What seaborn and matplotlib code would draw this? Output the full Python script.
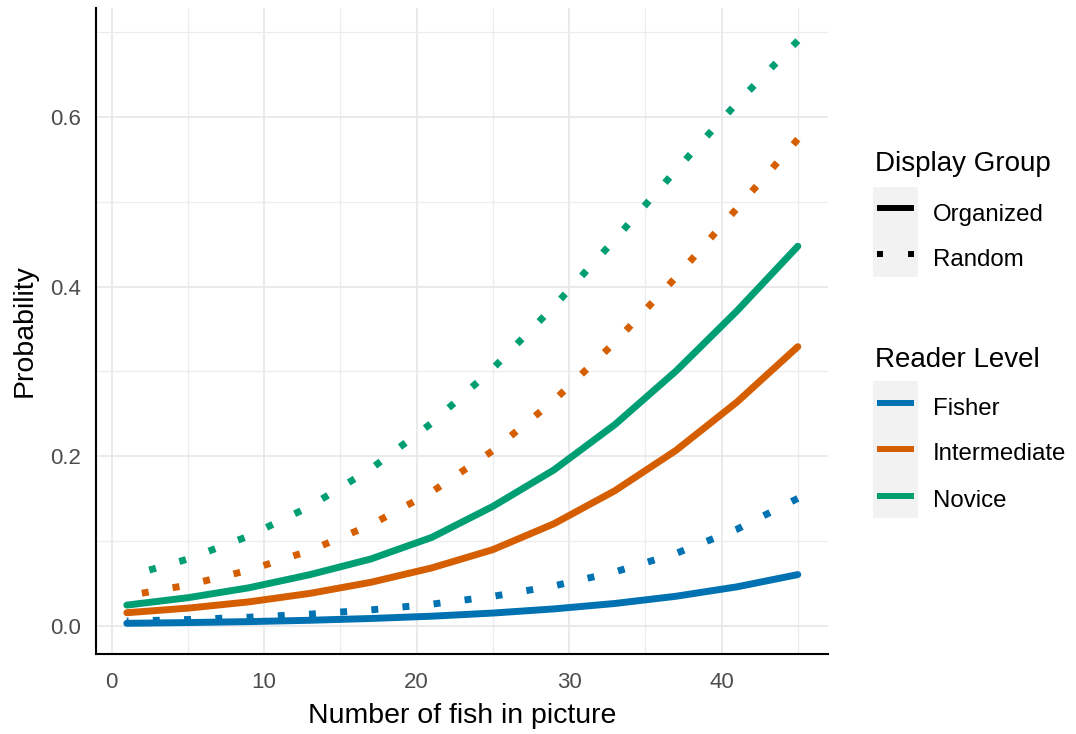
import matplotlib
matplotlib.use("Agg")
import matplotlib.pyplot as plt
import pandas as pd
import seaborn as sns
from matplotlib.lines import Line2D
from matplotlib.patches import Rectangle
from matplotlib.ticker import MultipleLocator, FormatStrFormatter

# Predicted probability of a reading error by number of fish in the picture
fish_count = [1, 5, 9, 13, 17, 21, 25, 29, 33, 37, 41, 45]

fisher_organized = [0.0026, 0.0035, 0.0046, 0.0062, 0.0083, 0.0110,
                    0.0147, 0.0196, 0.0260, 0.0345, 0.0456, 0.0601]
fisher_random = [0.0052, 0.0071, 0.0098, 0.0134, 0.0184, 0.0252,
                 0.0344, 0.0467, 0.0632, 0.0850, 0.1135, 0.1500]
intermediate_organized = [0.0151, 0.0205, 0.0279, 0.0379, 0.0510, 0.0680,
                          0.0895, 0.1200, 0.1590, 0.2065, 0.2635, 0.3290]
intermediate_random = [0.0349, 0.0478, 0.0652, 0.0884, 0.1187, 0.1577,
                       0.2063, 0.2654, 0.3340, 0.4107, 0.4920, 0.5738]
novice_organized = [0.0241, 0.0328, 0.0445, 0.0600, 0.0785, 0.1040,
                    0.1405, 0.1835, 0.2370, 0.3000, 0.3710, 0.4475]
novice_random = [0.0579, 0.0784, 0.1056, 0.1405, 0.1848, 0.2390,
                 0.3032, 0.3764, 0.4554, 0.5370, 0.6163, 0.6900]

reader_levels = ["Fisher", "Intermediate", "Novice"]
display_groups = ["Organized", "Random"]
level_colors = {"Fisher": "#0072B2", "Intermediate": "#D55E00", "Novice": "#009E73"}

x_ticks = [0, 10, 20, 30, 40]
y_ticks = [0.0, 0.2, 0.4, 0.6]

curves = {
    ("Fisher", "Organized"): fisher_organized,
    ("Fisher", "Random"): fisher_random,
    ("Intermediate", "Organized"): intermediate_organized,
    ("Intermediate", "Random"): intermediate_random,
    ("Novice", "Organized"): novice_organized,
    ("Novice", "Random"): novice_random,
}
rows = []
for (level, group), values in curves.items():
    for n, p in zip(fish_count, values):
        rows.append({"fish": n, "prob": p, "level": level, "group": group})
# Lines run from the largest count back to the smallest so the dot pattern
# starts at the right-hand end of each curve
df = pd.DataFrame(rows).sort_values("fish", ascending=False, kind="stable")

sns.set_style("white")
plt.rcParams["font.family"] = ["Liberation Sans", "DejaVu Sans"]

W, H = 1076, 734
fig = plt.figure(figsize=(W / 100, H / 100), dpi=100)
ax = fig.add_axes([96 / W, 80 / H, 732 / W, 646 / H])

LW = 5.0
sns.lineplot(
    data=df, x="fish", y="prob",
    hue="level", hue_order=reader_levels, palette=level_colors,
    style="group", style_order=display_groups,
    dashes={"Organized": "", "Random": (1, 3.5)},
    linewidth=LW, estimator=None, sort=False, legend=False, ax=ax,
)

ax.set_xlim(-1.02, 46.98)
ax.set_ylim(-0.0336, 0.7286)
ax.set_xticks(x_ticks)
ax.set_yticks(y_ticks)
ax.xaxis.set_minor_locator(MultipleLocator(5))
ax.yaxis.set_minor_locator(MultipleLocator(0.1))
ax.yaxis.set_major_formatter(FormatStrFormatter("%.1f"))

ax.set_axisbelow(True)
ax.grid(which="major", color="#E8E8EC", linewidth=1.3)
ax.grid(which="minor", color="#ECECEF", linewidth=0.9)

for side in ("top", "right"):
    ax.spines[side].set_visible(False)
for side in ("left", "bottom"):
    ax.spines[side].set_color("black")
    ax.spines[side].set_linewidth(1.5)

ax.tick_params(which="major", length=3.5, width=1.0, color="#333333",
               labelsize=16, labelcolor="#4D4D4D")
ax.tick_params(axis="x", which="major", pad=9.5)
ax.tick_params(axis="y", which="major", pad=7)
ax.tick_params(which="minor", length=0)

ax.set_xlabel("Number of fish in picture", fontsize=20.5, color="black", labelpad=7)
ax.set_ylabel("Probability", fontsize=20.5, color="black", labelpad=9)

# Legends drawn in pixel space on the figure
def fx(x):
    return x / W

def fy(y):
    return 1 - y / H

KEY_BG = "#F2F2F2"
KEY_LW = 4.3

fig.text(fx(875), fy(170.7), "Display Group", fontsize=20, color="black",
         va="baseline", ha="left")
fig.add_artist(Rectangle((fx(873), fy(277)), 45 / W, 90 / H,
                         transform=fig.transFigure, facecolor=KEY_BG,
                         edgecolor="none", zorder=1))
for label, key_y, base_y in [("Organized", 208, 220.5), ("Random", 254.3, 265.5)]:
    line = Line2D([fx(877), fx(914)], [fy(key_y)] * 2, color="black",
                  linewidth=KEY_LW, transform=fig.transFigure, zorder=2,
                  solid_capstyle="butt", dash_capstyle="butt")
    if label == "Random":
        line.set_dashes((1, 4.2))
    fig.add_artist(line)
    fig.text(fx(933), fy(base_y), label, fontsize=17.3, color="black",
             va="baseline", ha="left")

fig.text(fx(875), fy(367.3), "Reader Level", fontsize=20, color="black",
         va="baseline", ha="left")
fig.add_artist(Rectangle((fx(873), fy(518)), 45 / W, 137.5 / H,
                         transform=fig.transFigure, facecolor=KEY_BG,
                         edgecolor="none", zorder=1))
for level, key_y, base_y in [("Fisher", 402.7, 415), ("Intermediate", 449, 460.5),
                             ("Novice", 496, 507)]:
    fig.add_artist(Line2D([fx(877), fx(914)], [fy(key_y)] * 2,
                          color=level_colors[level], linewidth=KEY_LW,
                          transform=fig.transFigure, zorder=2,
                          solid_capstyle="butt"))
    fig.text(fx(933), fy(base_y), level, fontsize=17.3, color="black",
             va="baseline", ha="left")

fig.savefig("out.png", dpi=100)
